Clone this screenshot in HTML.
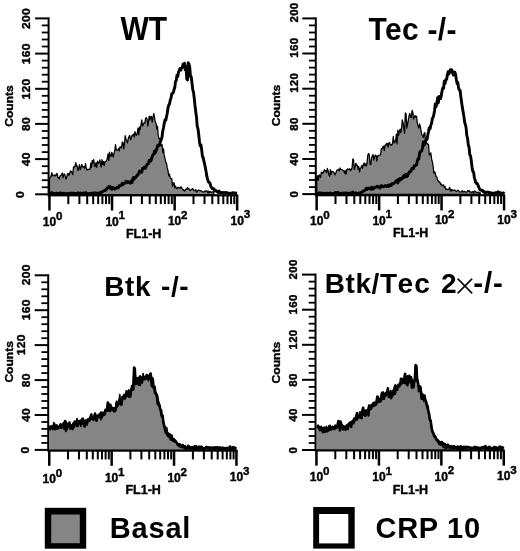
<!DOCTYPE html>
<html><head><meta charset="utf-8"><title>Flow cytometry histograms</title>
<style>
html,body{margin:0;padding:0;background:#fff;}
body{width:520px;height:551px;overflow:hidden;font-family:"Liberation Sans",sans-serif;}
svg{display:block;position:absolute;left:0;top:0;filter:grayscale(1);}
text{fill:#000;}
</style></head><body>
<svg width="520" height="551" viewBox="0 0 520 551">
<rect x="0" y="0" width="520" height="551" fill="#fff"/>
<path d="M49.5 179.5L50.2 177.2L51.0 176.5L51.8 172.7L52.5 175.7L53.2 175.4L54.0 175.9L54.8 174.8L55.5 175.8L56.2 175.0L57.0 173.3L57.8 177.4L58.5 177.4L59.2 179.0L60.0 176.0L60.8 175.2L61.5 174.9L62.2 173.1L63.0 177.9L63.8 174.1L64.5 174.0L65.2 175.9L66.0 179.1L66.8 176.8L67.5 173.7L68.2 173.5L69.0 175.4L69.8 173.1L70.5 171.0L71.2 171.4L72.0 172.7L72.8 174.6L73.5 166.8L74.2 167.4L75.0 166.2L75.8 162.6L76.5 166.0L77.2 165.8L78.0 170.7L78.8 167.9L79.5 164.6L80.2 169.7L81.0 167.5L81.8 164.4L82.5 167.0L83.2 167.1L84.0 166.5L84.8 168.5L85.5 163.5L86.2 167.7L87.0 170.1L87.8 169.3L88.5 169.5L89.2 169.1L90.0 169.6L90.8 163.1L91.5 167.3L92.2 160.5L93.0 163.0L93.8 159.5L94.5 166.2L95.2 166.5L96.0 162.6L96.8 167.3L97.5 161.2L98.2 163.1L99.0 163.0L99.8 159.9L100.5 163.5L101.2 167.1L102.0 159.6L102.8 164.3L103.5 161.5L104.2 165.6L105.0 161.7L105.8 161.4L106.5 160.6L107.2 158.8L108.0 153.8L108.8 160.4L109.5 152.2L110.2 156.0L111.0 156.6L111.8 152.3L112.5 154.6L113.2 157.1L114.0 153.4L114.8 150.7L115.5 144.6L116.2 149.7L117.0 150.4L117.8 150.2L118.5 148.5L119.2 151.0L120.0 146.9L120.8 146.9L121.5 148.0L122.2 142.1L123.0 142.4L123.8 148.8L124.5 143.5L125.2 135.6L126.0 139.2L126.8 140.9L127.5 142.8L128.2 139.0L129.0 136.5L129.8 135.5L130.5 139.7L131.2 138.3L132.0 135.3L132.8 135.6L133.5 134.1L134.2 137.1L135.0 131.6L135.8 134.8L136.5 135.3L137.2 133.3L138.0 128.0L138.8 134.8L139.5 126.8L140.2 129.6L141.0 124.5L141.8 119.9L142.5 125.9L143.2 125.1L144.0 122.8L144.8 123.2L145.5 118.9L146.2 117.6L147.0 118.7L147.8 126.1L148.5 121.6L149.2 116.2L150.0 119.8L150.8 116.3L151.5 116.8L152.2 122.1L153.0 117.3L153.8 113.5L154.5 117.2L155.2 121.9L156.0 123.0L156.8 129.1L157.5 126.2L158.2 135.3L159.0 138.3L159.8 139.0L160.5 144.6L161.2 146.0L162.0 144.4L162.8 152.6L163.5 148.8L164.2 155.5L165.0 158.5L165.8 162.6L166.5 163.0L167.2 167.7L168.0 170.6L168.8 175.9L169.5 174.1L170.2 177.5L171.0 178.7L171.8 178.7L172.5 186.4L173.2 183.4L174.0 182.7L174.8 187.8L175.5 185.9L176.2 188.1L177.0 188.8L177.8 187.2L178.5 187.6L179.2 187.7L180.0 188.3L180.8 186.8L181.5 187.4L182.2 188.7L183.0 190.1L183.8 189.8L184.5 191.1L185.2 190.2L186.0 189.0L186.8 189.4L187.5 187.6L188.2 188.7L189.0 188.7L189.8 190.1L190.5 190.5L191.2 189.4L192.0 189.4L192.8 188.6L193.5 190.0L194.2 190.4L195.0 190.7L195.8 189.6L196.5 192.2L197.2 191.6L198.0 190.4L198.8 190.1L199.5 190.3L200.2 190.8L201.0 190.7L201.8 191.2L202.5 191.6L203.2 192.2L204.0 192.0L204.8 191.0L205.5 191.5L206.2 190.9L207.0 190.8L207.8 193.0L208.5 191.1L209.2 193.1L210.0 191.3L210.8 191.9L211.5 192.6L212.2 191.8L213.0 192.1L213.8 191.7L213.8 194.5 L49.5 194.5 Z" fill="#858585" stroke="#000" stroke-width="1.25" stroke-linejoin="round"/>
<path d="M49.5 193.9L50.2 193.4L51.0 193.3L51.8 192.5L52.5 193.5L53.2 193.4L54.0 193.3L54.8 193.6L55.5 193.6L56.2 193.1L57.0 193.1L57.8 193.3L58.5 193.7L59.2 193.7L60.0 192.9L60.8 193.0L61.5 193.7L62.2 193.9L63.0 193.4L63.8 193.2L64.5 193.9L65.2 193.3L66.0 193.7L66.8 193.9L67.5 193.7L68.2 193.5L69.0 193.7L69.8 193.2L70.5 193.3L71.2 193.2L72.0 193.3L72.8 193.2L73.5 193.3L74.2 193.3L75.0 193.4L75.8 193.4L76.5 193.5L77.2 193.9L78.0 192.8L78.8 193.9L79.5 193.3L80.2 192.9L81.0 193.3L81.8 193.4L82.5 193.8L83.2 192.9L84.0 193.4L84.8 193.4L85.5 192.7L86.2 192.9L87.0 193.6L87.8 193.6L88.5 193.8L89.2 193.6L90.0 193.5L90.8 193.4L91.5 193.8L92.2 193.0L93.0 193.3L93.8 193.5L94.5 192.7L95.2 193.8L96.0 193.0L96.8 193.3L97.5 193.9L98.2 193.0L99.0 193.1L99.8 193.9L100.5 192.5L101.2 192.2L102.0 192.1L102.8 191.6L103.5 191.1L104.2 190.5L105.0 190.6L105.8 190.0L106.5 189.3L107.2 188.1L108.0 187.7L108.8 186.5L109.5 188.0L110.2 186.6L111.0 188.4L111.8 189.2L112.5 187.5L113.2 187.9L114.0 188.2L114.8 189.1L115.5 188.3L116.2 188.3L117.0 187.6L117.8 187.2L118.5 187.7L119.2 185.7L120.0 185.8L120.8 185.4L121.5 185.3L122.2 183.3L123.0 184.5L123.8 183.4L124.5 183.5L125.2 182.7L126.0 181.2L126.8 181.8L127.5 182.7L128.2 182.0L129.0 181.7L129.8 183.0L130.5 183.1L131.2 181.2L132.0 182.6L132.8 178.5L133.5 177.6L134.2 179.2L135.0 177.4L135.8 177.3L136.5 176.4L137.2 175.0L138.0 174.9L138.8 173.5L139.5 171.1L140.2 172.1L141.0 171.3L141.8 172.2L142.5 168.4L143.2 168.8L144.0 167.6L144.8 167.1L145.5 168.4L146.2 166.2L147.0 164.5L147.8 164.0L148.5 163.5L149.2 160.3L150.0 160.0L150.8 161.0L151.5 159.0L152.2 156.7L153.0 154.9L153.8 154.2L154.5 151.0L155.2 152.9L156.0 150.8L156.8 149.2L157.5 145.8L158.2 145.2L159.0 145.6L159.8 143.9L160.5 141.4L161.2 139.8L162.0 137.0L162.8 130.9L163.5 127.7L164.2 123.6L165.0 119.8L165.8 120.3L166.5 116.8L167.2 113.5L168.0 107.8L168.8 105.0L169.5 103.9L170.2 100.2L171.0 98.2L171.8 93.6L172.5 93.3L173.2 92.9L174.0 89.8L174.8 87.3L175.5 81.4L176.2 80.6L177.0 75.2L177.8 76.5L178.5 72.2L179.2 70.4L180.0 68.5L180.8 70.1L181.5 68.3L182.2 67.7L183.0 64.3L183.8 66.8L184.5 63.1L185.2 69.8L186.0 66.2L186.8 79.0L187.5 80.0L188.2 62.7L189.0 64.0L189.8 67.9L190.5 76.7L191.2 76.7L192.0 83.1L192.8 90.0L193.5 92.1L194.2 97.7L195.0 105.7L195.8 112.1L196.5 117.1L197.2 126.1L198.0 128.8L198.8 135.3L199.5 141.7L200.2 145.8L201.0 145.1L201.8 150.8L202.5 156.8L203.2 157.5L204.0 161.7L204.8 164.9L205.5 168.5L206.2 172.3L207.0 177.2L207.8 180.0L208.5 182.0L209.2 182.6L210.0 183.1L210.8 186.3L211.5 187.3L212.2 188.5L213.0 188.9L213.8 188.8L214.5 190.7L215.2 190.0L216.0 190.9L216.8 191.6L217.5 191.8L218.2 192.6L219.0 191.0L219.8 192.4L220.5 192.7L221.2 192.5L222.0 193.1L222.8 192.4L223.5 193.1L224.2 193.1L225.0 192.5L225.8 192.6L226.5 192.9L227.2 192.7L228.0 193.4L228.8 193.1L229.5 193.6L230.2 193.5L231.0 193.1L231.8 193.0L232.5 192.8L233.2 192.8L234.0 192.9L234.8 193.4L235.5 192.9L236.2 193.3L237.0 193.4" fill="none" stroke="#000" stroke-width="2.9" stroke-linejoin="round"/>
<rect x="47.6" y="17.4" width="2" height="177.9" fill="#000"/>
<rect x="35.1" y="17.4" width="13.5" height="2" fill="#000"/>
<rect x="41.8" y="24.5" width="6.8" height="1.8" fill="#000"/>
<rect x="41.8" y="31.6" width="6.8" height="1.8" fill="#000"/>
<rect x="41.8" y="38.6" width="6.8" height="1.8" fill="#000"/>
<rect x="41.8" y="45.6" width="6.8" height="1.8" fill="#000"/>
<rect x="35.1" y="52.6" width="13.5" height="2" fill="#000"/>
<rect x="41.8" y="59.7" width="6.8" height="1.8" fill="#000"/>
<rect x="41.8" y="66.8" width="6.8" height="1.8" fill="#000"/>
<rect x="41.8" y="73.8" width="6.8" height="1.8" fill="#000"/>
<rect x="41.8" y="80.8" width="6.8" height="1.8" fill="#000"/>
<rect x="35.1" y="87.8" width="13.5" height="2" fill="#000"/>
<rect x="41.8" y="94.9" width="6.8" height="1.8" fill="#000"/>
<rect x="41.8" y="101.9" width="6.8" height="1.8" fill="#000"/>
<rect x="41.8" y="109.0" width="6.8" height="1.8" fill="#000"/>
<rect x="41.8" y="116.0" width="6.8" height="1.8" fill="#000"/>
<rect x="35.1" y="122.9" width="13.5" height="2" fill="#000"/>
<rect x="41.8" y="130.1" width="6.8" height="1.8" fill="#000"/>
<rect x="41.8" y="137.1" width="6.8" height="1.8" fill="#000"/>
<rect x="41.8" y="144.1" width="6.8" height="1.8" fill="#000"/>
<rect x="41.8" y="151.2" width="6.8" height="1.8" fill="#000"/>
<rect x="35.1" y="158.1" width="13.5" height="2" fill="#000"/>
<rect x="41.8" y="165.3" width="6.8" height="1.8" fill="#000"/>
<rect x="41.8" y="172.3" width="6.8" height="1.8" fill="#000"/>
<rect x="41.8" y="179.3" width="6.8" height="1.8" fill="#000"/>
<rect x="41.8" y="186.4" width="6.8" height="1.8" fill="#000"/>
<rect x="35.1" y="193.3" width="13.5" height="2" fill="#000"/>
<text transform="translate(30.3 18.5) rotate(-90) scale(1.09 1)" text-anchor="middle" letter-spacing="0.3" font-size="11.0" font-family="Liberation Sans, sans-serif" font-weight="bold" stroke="#000" stroke-width="0.4" stroke-linejoin="round">200</text>
<text transform="translate(30.3 53.7) rotate(-90) scale(1.09 1)" text-anchor="middle" letter-spacing="0.3" font-size="11.0" font-family="Liberation Sans, sans-serif" font-weight="bold" stroke="#000" stroke-width="0.4" stroke-linejoin="round">160</text>
<text transform="translate(30.3 88.9) rotate(-90) scale(1.09 1)" text-anchor="middle" letter-spacing="0.3" font-size="11.0" font-family="Liberation Sans, sans-serif" font-weight="bold" stroke="#000" stroke-width="0.4" stroke-linejoin="round">120</text>
<text transform="translate(30.3 124.1) rotate(-90) scale(1.09 1)" text-anchor="middle" letter-spacing="0.3" font-size="11.0" font-family="Liberation Sans, sans-serif" font-weight="bold" stroke="#000" stroke-width="0.4" stroke-linejoin="round">80</text>
<text transform="translate(30.3 159.3) rotate(-90) scale(1.09 1)" text-anchor="middle" letter-spacing="0.3" font-size="11.0" font-family="Liberation Sans, sans-serif" font-weight="bold" stroke="#000" stroke-width="0.4" stroke-linejoin="round">40</text>
<text transform="translate(24.3 194.5) rotate(-90) scale(1.09 1)" text-anchor="middle" letter-spacing="0.3" font-size="11.0" font-family="Liberation Sans, sans-serif" font-weight="bold" stroke="#000" stroke-width="0.4" stroke-linejoin="round">0</text>
<text transform="translate(12.5 106.0) rotate(-90) scale(1.1 1)" text-anchor="middle" font-size="11" font-family="Liberation Sans, sans-serif" font-weight="bold" stroke="#000" stroke-width="0.4" stroke-linejoin="round">Counts</text>
<rect x="47.6" y="194.2" width="190.6" height="2.2" fill="#000"/>
<rect x="48.2" y="195.3" width="2.5" height="15.2" fill="#000"/>
<rect x="67.3" y="195.3" width="2" height="8.8" fill="#000"/>
<rect x="78.4" y="195.3" width="2" height="8.8" fill="#000"/>
<rect x="86.2" y="195.3" width="2" height="8.8" fill="#000"/>
<rect x="92.2" y="195.3" width="2" height="8.8" fill="#000"/>
<rect x="97.2" y="195.3" width="2" height="8.8" fill="#000"/>
<rect x="101.4" y="195.3" width="2" height="8.8" fill="#000"/>
<rect x="105.0" y="195.3" width="2" height="8.8" fill="#000"/>
<rect x="108.2" y="195.3" width="2" height="8.8" fill="#000"/>
<rect x="110.8" y="195.3" width="2.5" height="15.2" fill="#000"/>
<rect x="129.9" y="195.3" width="2" height="8.8" fill="#000"/>
<rect x="140.9" y="195.3" width="2" height="8.8" fill="#000"/>
<rect x="148.7" y="195.3" width="2" height="8.8" fill="#000"/>
<rect x="154.8" y="195.3" width="2" height="8.8" fill="#000"/>
<rect x="159.8" y="195.3" width="2" height="8.8" fill="#000"/>
<rect x="163.9" y="195.3" width="2" height="8.8" fill="#000"/>
<rect x="167.6" y="195.3" width="2" height="8.8" fill="#000"/>
<rect x="170.8" y="195.3" width="2" height="8.8" fill="#000"/>
<rect x="173.4" y="195.3" width="2.5" height="15.2" fill="#000"/>
<rect x="192.5" y="195.3" width="2" height="8.8" fill="#000"/>
<rect x="203.5" y="195.3" width="2" height="8.8" fill="#000"/>
<rect x="211.3" y="195.3" width="2" height="8.8" fill="#000"/>
<rect x="217.4" y="195.3" width="2" height="8.8" fill="#000"/>
<rect x="222.3" y="195.3" width="2" height="8.8" fill="#000"/>
<rect x="226.5" y="195.3" width="2" height="8.8" fill="#000"/>
<rect x="230.1" y="195.3" width="2" height="8.8" fill="#000"/>
<rect x="233.3" y="195.3" width="2" height="8.8" fill="#000"/>
<rect x="235.9" y="195.3" width="2.5" height="15.2" fill="#000"/>
<text x="49.5" y="225.9" font-size="12" font-family="Liberation Sans, sans-serif" font-weight="bold" stroke="#000" stroke-width="0.4" stroke-linejoin="round" text-anchor="middle">10</text>
<text x="56.0" y="219.7" font-size="11.6" font-family="Liberation Sans, sans-serif" font-weight="bold" stroke="#000" stroke-width="0.4" stroke-linejoin="round">0</text>
<text x="112.1" y="225.5" font-size="12" font-family="Liberation Sans, sans-serif" font-weight="bold" stroke="#000" stroke-width="0.4" stroke-linejoin="round" text-anchor="middle">10</text>
<text x="118.6" y="219.3" font-size="11.6" font-family="Liberation Sans, sans-serif" font-weight="bold" stroke="#000" stroke-width="0.4" stroke-linejoin="round">1</text>
<text x="174.6" y="225.0" font-size="12" font-family="Liberation Sans, sans-serif" font-weight="bold" stroke="#000" stroke-width="0.4" stroke-linejoin="round" text-anchor="middle">10</text>
<text x="181.1" y="218.8" font-size="11.6" font-family="Liberation Sans, sans-serif" font-weight="bold" stroke="#000" stroke-width="0.4" stroke-linejoin="round">2</text>
<text x="237.2" y="224.6" font-size="12" font-family="Liberation Sans, sans-serif" font-weight="bold" stroke="#000" stroke-width="0.4" stroke-linejoin="round" text-anchor="middle">10</text>
<text x="243.7" y="218.4" font-size="11.6" font-family="Liberation Sans, sans-serif" font-weight="bold" stroke="#000" stroke-width="0.4" stroke-linejoin="round">3</text>
<text x="143.7" y="238.2" font-size="12.5" font-family="Liberation Sans, sans-serif" font-weight="bold" stroke="#000" stroke-width="0.4" stroke-linejoin="round" text-anchor="middle">FL1-H</text>
<text transform="translate(120.5 40) scale(1 1.08)" font-size="30" font-family="Liberation Sans, sans-serif" font-weight="bold">WT</text>
<path d="M316.8 177.3L317.6 175.7L318.3 180.4L319.1 174.9L319.8 175.1L320.6 177.5L321.3 172.2L322.1 172.4L322.8 173.5L323.6 172.0L324.3 169.7L325.1 171.3L325.8 170.7L326.6 172.9L327.3 168.4L328.1 170.7L328.8 174.7L329.6 176.3L330.3 169.7L331.1 174.3L331.8 171.2L332.6 171.7L333.3 171.9L334.1 172.7L334.8 174.9L335.6 173.6L336.3 171.6L337.1 170.0L337.8 170.1L338.6 169.2L339.3 170.8L340.1 167.9L340.8 169.5L341.6 169.5L342.3 169.8L343.1 170.6L343.8 170.7L344.6 173.3L345.3 170.5L346.1 174.2L346.8 169.7L347.6 168.8L348.3 169.5L349.1 169.5L349.8 168.8L350.6 170.6L351.3 169.7L352.1 167.7L352.8 159.0L353.6 160.0L354.3 169.5L355.1 166.9L355.8 163.4L356.6 164.9L357.3 165.3L358.1 169.3L358.8 166.5L359.6 172.0L360.3 168.5L361.1 167.3L361.8 165.5L362.6 168.2L363.3 164.8L364.1 162.9L364.8 165.6L365.6 163.8L366.3 166.1L367.1 162.5L367.8 155.1L368.6 153.5L369.3 154.5L370.1 164.4L370.8 164.6L371.6 158.3L372.3 155.8L373.1 154.7L373.8 160.0L374.6 156.7L375.3 155.1L376.1 155.5L376.8 161.2L377.6 155.8L378.3 156.0L379.1 155.3L379.8 155.2L380.6 154.5L381.3 148.6L382.1 149.2L382.8 146.8L383.6 146.1L384.3 150.7L385.1 145.0L385.8 145.7L386.6 143.4L387.3 143.3L388.1 147.1L388.8 143.0L389.6 142.5L390.3 145.1L391.1 144.7L391.8 145.2L392.6 142.9L393.3 136.5L394.1 143.0L394.8 141.2L395.6 141.6L396.3 134.2L397.1 143.9L397.8 130.1L398.6 135.3L399.3 131.8L400.1 129.1L400.8 132.7L401.6 128.0L402.3 119.9L403.1 123.0L403.8 127.8L404.6 133.3L405.3 113.0L406.1 114.0L406.8 128.1L407.6 124.3L408.3 120.0L409.1 115.5L409.8 113.4L410.6 116.8L411.3 117.8L412.1 110.4L412.8 112.1L413.6 119.2L414.3 116.5L415.1 115.6L415.8 117.3L416.6 116.2L417.3 123.1L418.1 126.1L418.8 128.1L419.6 123.9L420.3 126.4L421.1 131.3L421.8 134.6L422.6 136.0L423.3 137.4L424.1 133.5L424.8 132.6L425.6 142.8L426.3 141.9L427.1 144.2L427.8 143.9L428.6 145.0L429.3 155.0L430.1 154.6L430.8 152.8L431.6 158.9L432.3 161.6L433.1 165.8L433.8 173.2L434.6 171.9L435.3 173.3L436.1 176.9L436.8 176.9L437.6 180.2L438.3 180.7L439.1 182.1L439.8 181.9L440.6 184.5L441.3 183.9L442.1 185.9L442.8 185.3L443.6 184.9L444.3 187.4L445.1 186.5L445.8 189.6L446.6 189.0L447.3 189.5L448.1 189.4L448.8 189.4L449.6 187.3L450.3 191.0L451.1 189.2L451.8 191.1L452.6 189.8L453.3 190.4L454.1 190.5L454.8 190.0L455.6 190.9L456.3 191.5L457.1 190.8L457.8 190.1L458.6 190.7L459.3 191.4L460.1 192.2L460.8 192.0L461.6 191.6L462.3 190.6L463.1 192.1L463.8 191.5L464.6 191.3L465.3 192.2L466.1 192.0L466.8 192.0L467.6 190.7L468.3 191.2L469.1 190.4L469.8 191.9L470.6 191.8L471.3 192.5L472.1 192.0L472.8 191.6L473.6 193.5L474.3 191.2L475.1 191.1L475.8 191.8L476.6 192.7L477.3 192.3L478.1 192.4L478.8 192.1L479.6 193.7L480.3 192.8L480.3 194.3 L316.8 194.3 Z" fill="#858585" stroke="#000" stroke-width="1.25" stroke-linejoin="round"/>
<path d="M316.8 193.7L317.6 193.2L318.3 193.6L319.1 192.8L319.8 193.7L320.6 192.9L321.3 193.5L322.1 193.4L322.8 193.1L323.6 193.7L324.3 193.2L325.1 193.6L325.8 193.7L326.6 193.0L327.3 193.7L328.1 193.4L328.8 193.7L329.6 193.1L330.3 193.0L331.1 193.7L331.8 193.6L332.6 193.4L333.3 193.6L334.1 193.6L334.8 192.9L335.6 192.5L336.3 192.7L337.1 192.7L337.8 192.5L338.6 193.1L339.3 193.1L340.1 193.3L340.8 193.4L341.6 193.2L342.3 193.2L343.1 193.3L343.8 192.9L344.6 193.0L345.3 193.3L346.1 193.0L346.8 193.1L347.6 193.2L348.3 193.7L349.1 193.4L349.8 193.1L350.6 193.0L351.3 193.2L352.1 193.7L352.8 192.0L353.6 193.5L354.3 193.3L355.1 193.6L355.8 192.8L356.6 193.7L357.3 193.6L358.1 193.2L358.8 193.3L359.6 192.9L360.3 193.0L361.1 192.5L361.8 192.4L362.6 191.7L363.3 191.0L364.1 190.9L364.8 190.3L365.6 189.7L366.3 188.2L367.1 189.5L367.8 188.1L368.6 188.1L369.3 188.5L370.1 188.8L370.8 189.2L371.6 187.2L372.3 189.0L373.1 189.0L373.8 187.6L374.6 187.7L375.3 187.3L376.1 187.2L376.8 186.6L377.6 186.3L378.3 187.1L379.1 187.3L379.8 188.2L380.6 186.3L381.3 185.5L382.1 186.8L382.8 186.3L383.6 186.7L384.3 186.2L385.1 185.5L385.8 185.8L386.6 186.6L387.3 186.2L388.1 185.3L388.8 186.4L389.6 184.7L390.3 185.2L391.1 185.6L391.8 183.9L392.6 183.5L393.3 183.8L394.1 183.2L394.8 182.5L395.6 181.7L396.3 180.7L397.1 180.3L397.8 182.9L398.6 179.3L399.3 180.6L400.1 178.4L400.8 179.7L401.6 179.1L402.3 178.0L403.1 176.7L403.8 175.6L404.6 177.3L405.3 174.8L406.1 174.4L406.8 176.5L407.6 175.8L408.3 173.7L409.1 172.7L409.8 171.5L410.6 171.7L411.3 170.1L412.1 168.3L412.8 168.3L413.6 168.6L414.3 165.8L415.1 165.7L415.8 165.2L416.6 164.9L417.3 161.1L418.1 158.8L418.8 159.1L419.6 153.1L420.3 151.4L421.1 151.6L421.8 150.4L422.6 147.9L423.3 142.0L424.1 145.2L424.8 143.5L425.6 141.0L426.3 140.2L427.1 139.2L427.8 135.0L428.6 131.3L429.3 127.6L430.1 128.6L430.8 125.2L431.6 123.2L432.3 118.5L433.1 117.4L433.8 114.6L434.6 110.4L435.3 103.9L436.1 106.6L436.8 104.4L437.6 97.8L438.3 102.7L439.1 96.4L439.8 96.4L440.6 98.6L441.3 95.5L442.1 90.6L442.8 87.9L443.6 88.2L444.3 81.2L445.1 83.5L445.8 79.6L446.6 79.5L447.3 75.2L448.1 71.8L448.8 74.2L449.6 72.5L450.3 69.6L451.1 69.7L451.8 69.9L452.6 72.9L453.3 75.1L454.1 74.0L454.8 72.0L455.6 74.4L456.3 79.2L457.1 83.5L457.8 82.4L458.6 88.2L459.3 90.0L460.1 90.1L460.8 96.4L461.6 102.4L462.3 107.0L463.1 111.7L463.8 115.8L464.6 122.0L465.3 124.2L466.1 127.7L466.8 135.6L467.6 138.4L468.3 145.0L469.1 147.3L469.8 154.8L470.6 156.1L471.3 160.8L472.1 167.5L472.8 171.6L473.6 172.0L474.3 177.3L475.1 180.2L475.8 182.6L476.6 183.6L477.3 183.5L478.1 185.3L478.8 187.1L479.6 189.2L480.3 189.9L481.1 190.1L481.8 190.8L482.6 190.3L483.3 191.7L484.1 191.4L484.8 192.8L485.6 192.6L486.3 192.3L487.1 192.4L487.8 192.0L488.6 192.8L489.3 192.3L490.1 192.7L490.8 193.3L491.6 193.0L492.3 193.0L493.1 193.7L493.8 193.2L494.6 193.4L495.3 192.9L496.1 192.5L496.8 193.1L497.6 192.6L498.3 191.9L499.1 193.3L499.8 193.3L500.6 192.7L501.3 193.7L502.1 193.2L502.8 193.1L503.6 192.9L504.3 193.7" fill="none" stroke="#000" stroke-width="2.9" stroke-linejoin="round"/>
<rect x="314.8" y="17.4" width="2" height="177.7" fill="#000"/>
<rect x="302.3" y="17.4" width="13.5" height="2" fill="#000"/>
<rect x="309.0" y="24.5" width="6.8" height="1.8" fill="#000"/>
<rect x="309.0" y="31.6" width="6.8" height="1.8" fill="#000"/>
<rect x="309.0" y="38.6" width="6.8" height="1.8" fill="#000"/>
<rect x="309.0" y="45.6" width="6.8" height="1.8" fill="#000"/>
<rect x="302.3" y="52.5" width="13.5" height="2" fill="#000"/>
<rect x="309.0" y="59.7" width="6.8" height="1.8" fill="#000"/>
<rect x="309.0" y="66.7" width="6.8" height="1.8" fill="#000"/>
<rect x="309.0" y="73.7" width="6.8" height="1.8" fill="#000"/>
<rect x="309.0" y="80.8" width="6.8" height="1.8" fill="#000"/>
<rect x="302.3" y="87.7" width="13.5" height="2" fill="#000"/>
<rect x="309.0" y="94.8" width="6.8" height="1.8" fill="#000"/>
<rect x="309.0" y="101.8" width="6.8" height="1.8" fill="#000"/>
<rect x="309.0" y="108.9" width="6.8" height="1.8" fill="#000"/>
<rect x="309.0" y="115.9" width="6.8" height="1.8" fill="#000"/>
<rect x="302.3" y="122.8" width="13.5" height="2" fill="#000"/>
<rect x="309.0" y="129.9" width="6.8" height="1.8" fill="#000"/>
<rect x="309.0" y="137.0" width="6.8" height="1.8" fill="#000"/>
<rect x="309.0" y="144.0" width="6.8" height="1.8" fill="#000"/>
<rect x="309.0" y="151.0" width="6.8" height="1.8" fill="#000"/>
<rect x="302.3" y="158.0" width="13.5" height="2" fill="#000"/>
<rect x="309.0" y="165.1" width="6.8" height="1.8" fill="#000"/>
<rect x="309.0" y="172.1" width="6.8" height="1.8" fill="#000"/>
<rect x="309.0" y="179.1" width="6.8" height="1.8" fill="#000"/>
<rect x="309.0" y="186.2" width="6.8" height="1.8" fill="#000"/>
<rect x="302.3" y="193.1" width="13.5" height="2" fill="#000"/>
<text transform="translate(297.8 12.5) rotate(-90) scale(1.09 1)" text-anchor="middle" letter-spacing="0.3" font-size="10.5" font-family="Liberation Sans, sans-serif" font-weight="bold" stroke="#000" stroke-width="0.4" stroke-linejoin="round">200</text>
<text transform="translate(297.8 47.7) rotate(-90) scale(1.09 1)" text-anchor="middle" letter-spacing="0.3" font-size="10.5" font-family="Liberation Sans, sans-serif" font-weight="bold" stroke="#000" stroke-width="0.4" stroke-linejoin="round">160</text>
<text transform="translate(297.8 82.8) rotate(-90) scale(1.09 1)" text-anchor="middle" letter-spacing="0.3" font-size="10.5" font-family="Liberation Sans, sans-serif" font-weight="bold" stroke="#000" stroke-width="0.4" stroke-linejoin="round">120</text>
<text transform="translate(297.8 124.0) rotate(-90) scale(1.09 1)" text-anchor="middle" letter-spacing="0.3" font-size="10.5" font-family="Liberation Sans, sans-serif" font-weight="bold" stroke="#000" stroke-width="0.4" stroke-linejoin="round">80</text>
<text transform="translate(297.8 159.1) rotate(-90) scale(1.09 1)" text-anchor="middle" letter-spacing="0.3" font-size="10.5" font-family="Liberation Sans, sans-serif" font-weight="bold" stroke="#000" stroke-width="0.4" stroke-linejoin="round">40</text>
<text transform="translate(297.8 194.2) rotate(-90) scale(1.09 1)" text-anchor="middle" letter-spacing="0.3" font-size="10.5" font-family="Liberation Sans, sans-serif" font-weight="bold" stroke="#000" stroke-width="0.4" stroke-linejoin="round">0</text>
<text transform="translate(279.6 105.5) rotate(-90) scale(1.1 1)" text-anchor="middle" font-size="11" font-family="Liberation Sans, sans-serif" font-weight="bold" stroke="#000" stroke-width="0.4" stroke-linejoin="round">Counts</text>
<rect x="314.8" y="194.1" width="190.2" height="2.2" fill="#000"/>
<rect x="315.4" y="195.2" width="2.5" height="15.2" fill="#000"/>
<rect x="334.5" y="195.2" width="2" height="8.8" fill="#000"/>
<rect x="345.5" y="195.2" width="2" height="8.8" fill="#000"/>
<rect x="353.3" y="195.2" width="2" height="8.8" fill="#000"/>
<rect x="359.3" y="195.2" width="2" height="8.8" fill="#000"/>
<rect x="364.3" y="195.2" width="2" height="8.8" fill="#000"/>
<rect x="368.5" y="195.2" width="2" height="8.8" fill="#000"/>
<rect x="372.1" y="195.2" width="2" height="8.8" fill="#000"/>
<rect x="375.3" y="195.2" width="2" height="8.8" fill="#000"/>
<rect x="377.9" y="195.2" width="2.5" height="15.2" fill="#000"/>
<rect x="396.9" y="195.2" width="2" height="8.8" fill="#000"/>
<rect x="407.9" y="195.2" width="2" height="8.8" fill="#000"/>
<rect x="415.7" y="195.2" width="2" height="8.8" fill="#000"/>
<rect x="421.8" y="195.2" width="2" height="8.8" fill="#000"/>
<rect x="426.7" y="195.2" width="2" height="8.8" fill="#000"/>
<rect x="430.9" y="195.2" width="2" height="8.8" fill="#000"/>
<rect x="434.5" y="195.2" width="2" height="8.8" fill="#000"/>
<rect x="437.7" y="195.2" width="2" height="8.8" fill="#000"/>
<rect x="440.3" y="195.2" width="2.5" height="15.2" fill="#000"/>
<rect x="459.4" y="195.2" width="2" height="8.8" fill="#000"/>
<rect x="470.4" y="195.2" width="2" height="8.8" fill="#000"/>
<rect x="478.2" y="195.2" width="2" height="8.8" fill="#000"/>
<rect x="484.2" y="195.2" width="2" height="8.8" fill="#000"/>
<rect x="489.1" y="195.2" width="2" height="8.8" fill="#000"/>
<rect x="493.3" y="195.2" width="2" height="8.8" fill="#000"/>
<rect x="496.9" y="195.2" width="2" height="8.8" fill="#000"/>
<rect x="500.1" y="195.2" width="2" height="8.8" fill="#000"/>
<rect x="502.8" y="195.2" width="2.5" height="15.2" fill="#000"/>
<text x="316.7" y="224.9" font-size="12" font-family="Liberation Sans, sans-serif" font-weight="bold" stroke="#000" stroke-width="0.4" stroke-linejoin="round" text-anchor="middle">10</text>
<text x="323.2" y="218.7" font-size="11.6" font-family="Liberation Sans, sans-serif" font-weight="bold" stroke="#000" stroke-width="0.4" stroke-linejoin="round">0</text>
<text x="379.1" y="224.6" font-size="12" font-family="Liberation Sans, sans-serif" font-weight="bold" stroke="#000" stroke-width="0.4" stroke-linejoin="round" text-anchor="middle">10</text>
<text x="385.6" y="218.4" font-size="11.6" font-family="Liberation Sans, sans-serif" font-weight="bold" stroke="#000" stroke-width="0.4" stroke-linejoin="round">1</text>
<text x="441.6" y="224.3" font-size="12" font-family="Liberation Sans, sans-serif" font-weight="bold" stroke="#000" stroke-width="0.4" stroke-linejoin="round" text-anchor="middle">10</text>
<text x="448.1" y="218.1" font-size="11.6" font-family="Liberation Sans, sans-serif" font-weight="bold" stroke="#000" stroke-width="0.4" stroke-linejoin="round">2</text>
<text x="504.0" y="224.0" font-size="12" font-family="Liberation Sans, sans-serif" font-weight="bold" stroke="#000" stroke-width="0.4" stroke-linejoin="round" text-anchor="middle">10</text>
<text x="510.5" y="217.8" font-size="11.6" font-family="Liberation Sans, sans-serif" font-weight="bold" stroke="#000" stroke-width="0.4" stroke-linejoin="round">3</text>
<text x="410.7" y="237.2" font-size="12.5" font-family="Liberation Sans, sans-serif" font-weight="bold" stroke="#000" stroke-width="0.4" stroke-linejoin="round" text-anchor="middle">FL1-H</text>
<text transform="translate(368.6 40) scale(1 1.05)" font-size="30" letter-spacing="0.3" font-family="Liberation Sans, sans-serif" font-weight="bold">Tec -/-</text>
<path d="M49.3 430.4L50.0 426.7L50.8 427.6L51.5 428.2L52.3 426.1L53.0 427.5L53.8 427.5L54.5 424.5L55.3 429.2L56.0 428.5L56.8 426.4L57.5 427.2L58.3 428.2L59.0 426.7L59.8 426.5L60.5 424.3L61.3 427.6L62.0 426.6L62.8 426.7L63.5 423.4L64.3 428.8L65.0 421.0L65.8 422.0L66.5 429.6L67.3 426.1L68.0 423.8L68.8 425.8L69.5 422.6L70.3 428.6L71.0 426.2L71.8 425.8L72.5 429.0L73.3 423.6L74.0 426.8L74.8 421.5L75.5 423.4L76.3 421.7L77.0 426.0L77.8 425.9L78.5 421.4L79.3 423.4L80.0 421.6L80.8 423.0L81.5 420.6L82.3 418.9L83.0 418.8L83.8 422.9L84.5 426.5L85.3 422.6L86.0 420.5L86.8 424.5L87.5 420.8L88.3 419.9L89.0 419.6L89.8 418.3L90.5 417.3L91.3 414.5L92.0 418.4L92.8 417.2L93.5 419.8L94.3 416.7L95.0 413.6L95.8 417.2L96.5 420.8L97.3 416.6L98.0 415.6L98.8 415.0L99.5 414.4L100.3 415.1L101.0 412.5L101.8 417.2L102.5 412.7L103.3 412.7L104.0 414.8L104.8 414.3L105.5 409.9L106.3 410.4L107.0 410.6L107.8 402.5L108.5 403.5L109.3 410.3L110.0 410.9L110.8 410.0L111.5 407.2L112.3 408.9L113.0 408.1L113.8 408.8L114.5 411.3L115.3 410.7L116.0 407.7L116.8 406.4L117.5 405.6L118.3 402.9L119.0 401.6L119.8 399.1L120.5 399.8L121.3 404.8L122.0 400.9L122.8 397.3L123.5 396.4L124.3 394.8L125.0 397.2L125.8 396.6L126.5 391.4L127.3 395.7L128.1 392.3L128.8 396.6L129.6 392.7L130.3 396.0L131.1 389.6L131.8 389.3L132.6 389.3L133.3 389.5L134.1 367.5L134.8 368.5L135.6 383.6L136.3 382.3L137.1 380.2L137.8 378.7L138.6 384.6L139.3 378.1L140.1 376.4L140.8 380.1L141.6 378.3L142.3 377.3L143.1 379.3L143.8 378.1L144.6 377.3L145.3 378.9L146.1 377.3L146.8 375.1L147.6 376.2L148.3 376.1L149.1 378.5L149.8 375.2L150.6 373.5L151.3 379.4L152.1 378.0L152.8 379.0L153.6 387.8L154.3 387.5L155.1 393.3L155.8 393.2L156.6 394.4L157.3 396.7L158.1 401.1L158.8 404.3L159.6 405.6L160.3 409.6L161.1 409.9L161.8 416.2L162.6 415.6L163.3 421.6L164.1 425.8L164.8 428.4L165.6 431.4L166.3 427.9L167.1 433.6L167.8 435.7L168.6 436.0L169.3 434.0L170.1 436.6L170.8 439.4L171.6 435.5L172.3 438.9L173.1 440.6L173.8 439.1L174.6 441.6L175.3 440.6L176.1 441.8L176.8 442.7L177.6 444.7L178.3 444.7L179.1 446.1L179.8 444.4L180.6 445.5L181.3 446.9L182.1 446.7L182.8 445.2L183.6 447.4L184.3 446.5L185.1 447.6L185.8 447.6L186.6 448.5L187.3 447.5L188.1 445.8L188.8 446.3L189.6 448.3L190.3 447.4L191.1 448.7L191.8 448.0L192.6 447.2L193.3 448.9L194.1 447.2L194.8 446.2L195.6 449.7L196.3 446.3L197.1 448.6L197.8 448.9L198.6 448.2L199.3 446.6L200.1 448.9L200.8 446.8L201.6 446.9L202.3 447.7L203.1 448.7L203.8 448.3L204.6 448.8L205.3 447.7L206.1 447.9L206.8 447.1L207.6 447.8L208.3 448.6L209.1 447.8L209.8 448.5L210.6 447.6L211.3 447.6L212.1 448.1L212.8 447.9L213.6 448.6L214.3 448.3L215.1 449.6L215.8 447.9L216.6 447.9L217.3 447.2L218.1 448.1L218.8 448.7L219.6 447.5L220.3 448.1L221.1 448.8L221.8 448.0L222.6 447.7L223.3 449.0L224.1 448.2L224.8 448.5L225.6 449.2L226.3 449.2L227.1 447.9L227.8 447.7L228.6 448.4L229.3 448.1L230.1 446.5L230.8 449.3L231.6 448.2L232.3 448.8L233.1 447.2L233.8 449.3L234.6 447.7L235.3 448.1L236.1 447.0L236.1 450.2 L49.3 450.2 Z" fill="#858585" stroke="none"/>
<path d="M49.3 430.4L50.0 426.7L50.8 427.6L51.5 428.2L52.3 426.1L53.0 427.5L53.8 427.5L54.5 424.5L55.3 429.2L56.0 428.5L56.8 426.4L57.5 427.2L58.3 428.2L59.0 426.7L59.8 426.5L60.5 424.3L61.3 427.6L62.0 426.6L62.8 426.7L63.5 423.4L64.3 428.8L65.0 421.0L65.8 422.0L66.5 429.6L67.3 426.1L68.0 423.8L68.8 425.8L69.5 422.6L70.3 428.6L71.0 426.2L71.8 425.8L72.5 429.0L73.3 423.6L74.0 426.8L74.8 421.5L75.5 423.4L76.3 421.7L77.0 426.0L77.8 425.9L78.5 421.4L79.3 423.4L80.0 421.6L80.8 423.0L81.5 420.6L82.3 418.9L83.0 418.8L83.8 422.9L84.5 426.5L85.3 422.6L86.0 420.5L86.8 424.5L87.5 420.8L88.3 419.9L89.0 419.6L89.8 418.3L90.5 417.3L91.3 414.5L92.0 418.4L92.8 417.2L93.5 419.8L94.3 416.7L95.0 413.6L95.8 417.2L96.5 420.8L97.3 416.6L98.0 415.6L98.8 415.0L99.5 414.4L100.3 415.1L101.0 412.5L101.8 417.2L102.5 412.7L103.3 412.7L104.0 414.8L104.8 414.3L105.5 409.9L106.3 410.4L107.0 410.6L107.8 402.5L108.5 403.5L109.3 410.3L110.0 410.9L110.8 410.0L111.5 407.2L112.3 408.9L113.0 408.1L113.8 408.8L114.5 411.3L115.3 410.7L116.0 407.7L116.8 406.4L117.5 405.6L118.3 402.9L119.0 401.6L119.8 399.1L120.5 399.8L121.3 404.8L122.0 400.9L122.8 397.3L123.5 396.4L124.3 394.8L125.0 397.2L125.8 396.6L126.5 391.4L127.3 395.7L128.1 392.3L128.8 396.6L129.6 392.7L130.3 396.0L131.1 389.6L131.8 389.3L132.6 389.3L133.3 389.5L134.1 367.5L134.8 368.5L135.6 383.6L136.3 382.3L137.1 380.2L137.8 378.7L138.6 384.6L139.3 378.1L140.1 376.4L140.8 380.1L141.6 378.3L142.3 377.3L143.1 379.3L143.8 378.1L144.6 377.3L145.3 378.9L146.1 377.3L146.8 375.1L147.6 376.2L148.3 376.1L149.1 378.5L149.8 375.2L150.6 373.5L151.3 379.4L152.1 378.0L152.8 379.0L153.6 387.8L154.3 387.5L155.1 393.3L155.8 393.2L156.6 394.4L157.3 396.7L158.1 401.1L158.8 404.3L159.6 405.6L160.3 409.6L161.1 409.9L161.8 416.2L162.6 415.6L163.3 421.6L164.1 425.8L164.8 428.4L165.6 431.4L166.3 427.9L167.1 433.6L167.8 435.7L168.6 436.0L169.3 434.0L170.1 436.6L170.8 439.4L171.6 435.5L172.3 438.9L173.1 440.6L173.8 439.1L174.6 441.6L175.3 440.6L176.1 441.8L176.8 442.7L177.6 444.7L178.3 444.7L179.1 446.1L179.8 444.4L180.6 445.5L181.3 446.9L182.1 446.7L182.8 445.2L183.6 447.4L184.3 446.5L185.1 447.6L185.8 447.6L186.6 448.5L187.3 447.5L188.1 445.8L188.8 446.3L189.6 448.3L190.3 447.4L191.1 448.7L191.8 448.0L192.6 447.2L193.3 448.9L194.1 447.2L194.8 446.2L195.6 449.7L196.3 446.3L197.1 448.6L197.8 448.9L198.6 448.2L199.3 446.6L200.1 448.9L200.8 446.8L201.6 446.9L202.3 447.7L203.1 448.7L203.8 448.3L204.6 448.8L205.3 447.7L206.1 447.9L206.8 447.1L207.6 447.8L208.3 448.6L209.1 447.8L209.8 448.5L210.6 447.6L211.3 447.6L212.1 448.1L212.8 447.9L213.6 448.6L214.3 448.3L215.1 449.6L215.8 447.9L216.6 447.9L217.3 447.2L218.1 448.1L218.8 448.7L219.6 447.5L220.3 448.1L221.1 448.8L221.8 448.0L222.6 447.7L223.3 449.0L224.1 448.2L224.8 448.5L225.6 449.2L226.3 449.2L227.1 447.9L227.8 447.7L228.6 448.4L229.3 448.1L230.1 446.5L230.8 449.3L231.6 448.2L232.3 448.8L233.1 447.2L233.8 449.3L234.6 447.7L235.3 448.1L236.1 447.0" fill="none" stroke="#000" stroke-width="2.6" stroke-linejoin="round"/>
<path d="M49.3 429.1L50.0 428.0L50.8 426.2L51.5 426.9L52.3 427.3L53.0 429.6L53.8 422.5L54.5 427.0L55.3 425.4L56.0 426.3L56.8 424.8L57.5 429.0L58.3 426.6L59.0 426.4L59.8 426.1L60.5 427.6L61.3 427.5L62.0 426.3L62.8 427.6L63.5 428.1L64.3 423.8L65.0 423.7L65.8 431.5L66.5 424.0L67.3 425.4L68.0 427.4L68.8 425.3L69.5 424.4L70.3 426.8L71.0 427.6L71.8 424.8L72.5 427.2L73.3 427.9L74.0 424.9L74.8 424.1L75.5 423.0L76.3 423.8L77.0 418.6L77.8 422.2L78.5 421.6L79.3 421.8L80.0 420.3L80.8 426.4L81.5 423.5L82.3 424.0L83.0 421.7L83.8 423.3L84.5 422.6L85.3 421.6L86.0 423.5L86.8 422.9L87.5 419.0L88.3 421.4L89.0 419.9L89.8 420.9L90.5 419.5L91.3 419.1L92.0 417.2L92.8 417.5L93.5 416.8L94.3 416.1L95.0 415.6L95.8 415.1L96.5 416.6L97.3 417.0L98.0 416.5L98.8 417.7L99.5 415.1L100.3 415.9L101.0 419.6L101.8 414.4L102.5 412.9L103.3 414.3L104.0 414.2L104.8 412.1L105.5 409.9L106.3 410.2L107.0 410.1L107.8 410.6L108.5 409.4L109.3 411.0L110.0 409.6L110.8 404.4L111.5 409.1L112.3 408.0L113.0 410.9L113.8 411.0L114.5 407.8L115.3 411.2L116.0 402.8L116.8 401.2L117.5 406.5L118.3 404.6L119.0 403.9L119.8 394.6L120.5 404.7L121.3 400.2L122.0 396.9L122.8 397.7L123.5 396.4L124.3 398.9L125.0 399.1L125.8 394.2L126.5 392.5L127.3 396.0L128.1 392.3L128.8 389.9L129.6 392.8L130.3 397.4L131.1 388.9L131.8 385.5L132.6 388.1L133.3 384.8L134.1 369.0L134.8 370.0L135.6 384.7L136.3 377.9L137.1 383.9L137.8 377.6L138.6 382.7L139.3 379.8L140.1 385.3L140.8 377.9L141.6 379.2L142.3 383.3L143.1 373.7L143.8 379.7L144.6 376.5L145.3 379.5L146.1 375.7L146.8 376.6L147.6 377.7L148.3 380.9L149.1 376.8L149.8 379.1L150.6 378.0L151.3 385.8L152.1 386.7L152.8 380.0L153.6 386.5L154.3 388.9L155.1 386.5L155.8 393.0L156.6 397.3L157.3 404.4L158.1 401.9L158.8 406.2L159.6 404.8L160.3 409.9L161.1 414.7L161.8 416.8L162.6 417.9L163.3 421.4L164.1 423.9L164.8 426.4L165.6 433.5L166.3 433.7L167.1 432.2L167.8 432.6L168.6 437.0L169.3 435.2L170.1 436.7L170.8 436.5L171.6 436.3L172.3 440.4L173.1 439.9L173.8 439.0L174.6 441.1L175.3 441.6L176.1 442.3L176.8 443.2L177.6 444.4L178.3 443.9L179.1 443.8L179.8 446.6L180.6 444.4L181.3 447.5L182.1 447.0L182.8 445.3L183.6 447.1L184.3 448.4L185.1 445.6L185.8 449.7L186.6 448.7L187.3 448.0L188.1 448.6L188.8 448.1L189.6 447.3L190.3 447.7L191.1 446.7L191.8 448.1L192.6 447.9L193.3 448.2L194.1 447.7L194.8 447.6L195.6 447.4L196.3 448.2L197.1 447.4L197.8 449.6L198.6 447.5L199.3 447.2L200.1 449.4L200.8 448.9L201.6 448.6L202.3 449.3L203.1 448.0L203.8 449.2L204.6 448.2L205.3 449.2L206.1 446.6L206.8 448.1L207.6 447.2L208.3 446.9L209.1 447.3L209.8 447.8L210.6 448.4L211.3 448.9L212.1 447.5L212.8 448.2L213.6 446.9L214.3 449.1L215.1 446.9L215.8 448.5L216.6 447.5L217.3 448.4L218.1 448.8L218.8 448.9L219.6 447.1L220.3 448.2L221.1 447.3L221.8 448.3L222.6 447.7L223.3 448.4L224.1 447.6L224.8 448.6L225.6 447.6L226.3 448.2L227.1 449.5L227.8 447.8L228.6 448.3L229.3 448.4L230.1 447.8L230.8 448.2L231.6 447.7L232.3 448.3L233.1 449.7L233.8 448.3L234.6 448.6L235.3 448.7L236.1 448.3" fill="none" stroke="#000" stroke-width="1.7" stroke-linejoin="round"/>
<rect x="47.2" y="274.3" width="2" height="176.6" fill="#000"/>
<rect x="34.7" y="274.3" width="13.5" height="2" fill="#000"/>
<rect x="41.4" y="281.4" width="6.8" height="1.8" fill="#000"/>
<rect x="41.4" y="288.4" width="6.8" height="1.8" fill="#000"/>
<rect x="41.4" y="295.4" width="6.8" height="1.8" fill="#000"/>
<rect x="41.4" y="302.3" width="6.8" height="1.8" fill="#000"/>
<rect x="34.7" y="309.2" width="13.5" height="2" fill="#000"/>
<rect x="41.4" y="316.3" width="6.8" height="1.8" fill="#000"/>
<rect x="41.4" y="323.3" width="6.8" height="1.8" fill="#000"/>
<rect x="41.4" y="330.3" width="6.8" height="1.8" fill="#000"/>
<rect x="41.4" y="337.3" width="6.8" height="1.8" fill="#000"/>
<rect x="34.7" y="344.1" width="13.5" height="2" fill="#000"/>
<rect x="41.4" y="351.2" width="6.8" height="1.8" fill="#000"/>
<rect x="41.4" y="358.2" width="6.8" height="1.8" fill="#000"/>
<rect x="41.4" y="365.2" width="6.8" height="1.8" fill="#000"/>
<rect x="41.4" y="372.2" width="6.8" height="1.8" fill="#000"/>
<rect x="34.7" y="379.1" width="13.5" height="2" fill="#000"/>
<rect x="41.4" y="386.1" width="6.8" height="1.8" fill="#000"/>
<rect x="41.4" y="393.1" width="6.8" height="1.8" fill="#000"/>
<rect x="41.4" y="400.1" width="6.8" height="1.8" fill="#000"/>
<rect x="41.4" y="407.1" width="6.8" height="1.8" fill="#000"/>
<rect x="34.7" y="414.0" width="13.5" height="2" fill="#000"/>
<rect x="41.4" y="421.1" width="6.8" height="1.8" fill="#000"/>
<rect x="41.4" y="428.0" width="6.8" height="1.8" fill="#000"/>
<rect x="41.4" y="435.0" width="6.8" height="1.8" fill="#000"/>
<rect x="41.4" y="442.0" width="6.8" height="1.8" fill="#000"/>
<rect x="34.7" y="448.9" width="13.5" height="2" fill="#000"/>
<text transform="translate(30.3 274.8) rotate(-90) scale(1.09 1)" text-anchor="middle" letter-spacing="0.3" font-size="11.0" font-family="Liberation Sans, sans-serif" font-weight="bold" stroke="#000" stroke-width="0.4" stroke-linejoin="round">200</text>
<text transform="translate(30.3 309.8) rotate(-90) scale(1.09 1)" text-anchor="middle" letter-spacing="0.3" font-size="11.0" font-family="Liberation Sans, sans-serif" font-weight="bold" stroke="#000" stroke-width="0.4" stroke-linejoin="round">160</text>
<text transform="translate(24.8 344.7) rotate(-90) scale(1.09 1)" text-anchor="middle" letter-spacing="0.3" font-size="11.0" font-family="Liberation Sans, sans-serif" font-weight="bold" stroke="#000" stroke-width="0.4" stroke-linejoin="round">120</text>
<text transform="translate(30.3 380.2) rotate(-90) scale(1.09 1)" text-anchor="middle" letter-spacing="0.3" font-size="11.0" font-family="Liberation Sans, sans-serif" font-weight="bold" stroke="#000" stroke-width="0.4" stroke-linejoin="round">80</text>
<text transform="translate(30.3 415.1) rotate(-90) scale(1.09 1)" text-anchor="middle" letter-spacing="0.3" font-size="11.0" font-family="Liberation Sans, sans-serif" font-weight="bold" stroke="#000" stroke-width="0.4" stroke-linejoin="round">40</text>
<text transform="translate(29.0 450.0) rotate(-90) scale(1.09 1)" text-anchor="middle" letter-spacing="0.3" font-size="11.0" font-family="Liberation Sans, sans-serif" font-weight="bold" stroke="#000" stroke-width="0.4" stroke-linejoin="round">0</text>
<text transform="translate(12.6 361.8) rotate(-90) scale(1.1 1)" text-anchor="middle" font-size="11" font-family="Liberation Sans, sans-serif" font-weight="bold" stroke="#000" stroke-width="0.4" stroke-linejoin="round">Counts</text>
<rect x="47.2" y="449.5" width="190.3" height="2.2" fill="#000"/>
<rect x="48.0" y="450.6" width="2.5" height="15.2" fill="#000"/>
<rect x="67.0" y="450.6" width="2" height="8.8" fill="#000"/>
<rect x="78.0" y="450.6" width="2" height="8.8" fill="#000"/>
<rect x="85.8" y="450.6" width="2" height="8.8" fill="#000"/>
<rect x="91.8" y="450.6" width="2" height="8.8" fill="#000"/>
<rect x="96.8" y="450.6" width="2" height="8.8" fill="#000"/>
<rect x="101.0" y="450.6" width="2" height="8.8" fill="#000"/>
<rect x="104.6" y="450.6" width="2" height="8.8" fill="#000"/>
<rect x="107.8" y="450.6" width="2" height="8.8" fill="#000"/>
<rect x="110.4" y="450.6" width="2.5" height="15.2" fill="#000"/>
<rect x="129.4" y="450.6" width="2" height="8.8" fill="#000"/>
<rect x="140.4" y="450.6" width="2" height="8.8" fill="#000"/>
<rect x="148.2" y="450.6" width="2" height="8.8" fill="#000"/>
<rect x="154.3" y="450.6" width="2" height="8.8" fill="#000"/>
<rect x="159.2" y="450.6" width="2" height="8.8" fill="#000"/>
<rect x="163.4" y="450.6" width="2" height="8.8" fill="#000"/>
<rect x="167.0" y="450.6" width="2" height="8.8" fill="#000"/>
<rect x="170.2" y="450.6" width="2" height="8.8" fill="#000"/>
<rect x="172.8" y="450.6" width="2.5" height="15.2" fill="#000"/>
<rect x="191.9" y="450.6" width="2" height="8.8" fill="#000"/>
<rect x="202.9" y="450.6" width="2" height="8.8" fill="#000"/>
<rect x="210.7" y="450.6" width="2" height="8.8" fill="#000"/>
<rect x="216.7" y="450.6" width="2" height="8.8" fill="#000"/>
<rect x="221.6" y="450.6" width="2" height="8.8" fill="#000"/>
<rect x="225.8" y="450.6" width="2" height="8.8" fill="#000"/>
<rect x="229.4" y="450.6" width="2" height="8.8" fill="#000"/>
<rect x="232.6" y="450.6" width="2" height="8.8" fill="#000"/>
<rect x="235.2" y="450.6" width="2.5" height="15.2" fill="#000"/>
<text x="49.2" y="482.7" font-size="12" font-family="Liberation Sans, sans-serif" font-weight="bold" stroke="#000" stroke-width="0.4" stroke-linejoin="round" text-anchor="middle">10</text>
<text x="55.7" y="476.5" font-size="11.6" font-family="Liberation Sans, sans-serif" font-weight="bold" stroke="#000" stroke-width="0.4" stroke-linejoin="round">0</text>
<text x="111.6" y="482.2" font-size="12" font-family="Liberation Sans, sans-serif" font-weight="bold" stroke="#000" stroke-width="0.4" stroke-linejoin="round" text-anchor="middle">10</text>
<text x="118.1" y="476.0" font-size="11.6" font-family="Liberation Sans, sans-serif" font-weight="bold" stroke="#000" stroke-width="0.4" stroke-linejoin="round">1</text>
<text x="174.1" y="481.7" font-size="12" font-family="Liberation Sans, sans-serif" font-weight="bold" stroke="#000" stroke-width="0.4" stroke-linejoin="round" text-anchor="middle">10</text>
<text x="180.6" y="475.5" font-size="11.6" font-family="Liberation Sans, sans-serif" font-weight="bold" stroke="#000" stroke-width="0.4" stroke-linejoin="round">2</text>
<text x="236.5" y="481.2" font-size="12" font-family="Liberation Sans, sans-serif" font-weight="bold" stroke="#000" stroke-width="0.4" stroke-linejoin="round" text-anchor="middle">10</text>
<text x="243.0" y="475.0" font-size="11.6" font-family="Liberation Sans, sans-serif" font-weight="bold" stroke="#000" stroke-width="0.4" stroke-linejoin="round">3</text>
<text x="143.2" y="494.2" font-size="12.5" font-family="Liberation Sans, sans-serif" font-weight="bold" stroke="#000" stroke-width="0.4" stroke-linejoin="round" text-anchor="middle">FL1-H</text>
<text x="104.2" y="295.8" font-size="28" letter-spacing="0.6" font-family="Liberation Sans, sans-serif" font-weight="bold">Btk <tspan dx="1.5">-/-</tspan></text>
<path d="M316.6 426.7L317.4 426.7L318.1 425.7L318.9 428.0L319.6 427.9L320.4 428.1L321.1 426.9L321.9 429.0L322.6 429.3L323.4 428.4L324.1 430.3L324.9 431.9L325.6 429.2L326.4 429.7L327.1 431.3L327.9 428.7L328.6 430.4L329.4 426.0L330.1 427.1L330.9 429.4L331.6 428.2L332.4 426.9L333.1 428.3L333.9 427.3L334.6 427.4L335.4 425.7L336.1 426.5L336.9 426.6L337.6 425.0L338.4 421.0L339.1 422.0L339.9 430.4L340.6 421.5L341.4 424.7L342.1 426.1L342.9 427.1L343.6 428.7L344.4 428.7L345.1 429.3L345.9 429.5L346.6 425.5L347.4 426.0L348.1 424.7L348.9 425.8L349.6 423.8L350.4 422.3L351.1 426.9L351.9 422.6L352.6 421.1L353.4 423.2L354.1 418.7L354.9 419.4L355.6 418.3L356.4 415.2L357.1 413.1L357.9 417.6L358.6 415.7L359.4 415.1L360.1 417.3L360.9 413.3L361.6 418.1L362.4 410.6L363.1 407.8L363.9 412.7L364.6 413.5L365.4 415.7L366.1 410.6L366.9 410.4L367.6 410.3L368.4 415.4L369.1 405.5L369.9 409.5L370.6 407.9L371.4 405.1L372.1 405.6L372.9 406.0L373.6 403.0L374.4 404.3L375.1 405.1L375.9 404.6L376.6 401.0L377.4 396.5L378.1 397.5L378.9 401.9L379.6 399.5L380.4 401.3L381.1 398.9L381.9 393.0L382.6 398.7L383.4 393.8L384.1 396.0L384.9 393.9L385.6 395.5L386.4 392.6L387.1 392.3L387.9 388.2L388.6 396.6L389.4 393.7L390.1 393.3L390.9 398.1L391.6 396.8L392.4 395.6L393.1 394.7L393.9 392.0L394.6 387.5L395.4 385.4L396.1 389.6L396.9 389.0L397.6 386.7L398.4 385.1L399.1 386.0L399.9 385.6L400.6 382.7L401.4 383.5L402.1 383.1L402.9 379.0L403.6 382.7L404.4 377.4L405.1 373.8L405.9 382.0L406.6 378.8L407.4 385.3L408.1 376.2L408.9 382.3L409.6 378.9L410.4 380.5L411.1 377.2L411.9 387.5L412.6 380.5L413.4 387.5L414.1 381.7L414.9 378.6L415.6 365.0L416.4 366.0L417.1 380.3L417.9 382.2L418.6 386.2L419.4 388.7L420.1 386.4L420.9 391.7L421.6 398.7L422.4 394.4L423.1 399.1L423.9 398.2L424.6 395.6L425.4 401.1L426.1 401.4L426.9 405.6L427.6 406.0L428.4 411.6L429.1 413.4L429.9 419.8L430.6 420.4L431.4 426.2L432.1 430.5L432.9 432.8L433.6 434.5L434.4 436.4L435.1 436.1L435.9 438.7L436.6 439.9L437.4 440.4L438.1 441.9L438.9 441.4L439.6 443.3L440.4 442.5L441.1 442.3L441.9 442.1L442.6 445.4L443.4 443.4L444.1 444.1L444.9 444.0L445.6 447.9L446.4 447.9L447.1 445.5L447.9 444.7L448.6 445.9L449.4 446.3L450.1 446.6L450.9 447.5L451.6 446.2L452.4 447.1L453.1 447.7L453.9 447.7L454.6 447.8L455.4 447.0L456.1 447.4L456.9 448.3L457.6 446.5L458.4 448.6L459.1 447.4L459.9 448.7L460.6 446.3L461.4 448.3L462.1 447.4L462.9 448.9L463.6 447.8L464.4 447.0L465.1 448.7L465.9 447.2L466.6 446.9L467.4 447.0L468.1 447.1L468.9 447.2L469.6 447.3L470.4 448.7L471.1 448.8L471.9 449.0L472.6 449.7L473.4 448.4L474.1 447.9L474.9 446.8L475.6 447.6L476.4 448.0L477.1 449.2L477.9 447.4L478.6 449.4L479.4 449.4L480.1 447.8L480.9 447.7L481.6 448.0L482.4 447.3L483.1 447.0L483.9 447.5L484.6 448.5L485.4 446.0L486.1 448.6L486.9 449.5L487.6 449.1L488.4 449.5L489.1 446.7L489.9 447.1L490.6 449.4L491.4 448.4L492.1 449.2L492.9 448.3L493.6 448.6L494.4 447.2L495.1 447.6L495.9 448.9L496.6 448.2L497.4 448.1L498.1 448.8L498.9 447.4L499.6 446.6L500.4 447.4L501.1 447.9L501.9 449.4L502.6 447.3L503.4 448.7L503.4 450.2 L316.6 450.2 Z" fill="#858585" stroke="none"/>
<path d="M316.6 426.7L317.4 426.7L318.1 425.7L318.9 428.0L319.6 427.9L320.4 428.1L321.1 426.9L321.9 429.0L322.6 429.3L323.4 428.4L324.1 430.3L324.9 431.9L325.6 429.2L326.4 429.7L327.1 431.3L327.9 428.7L328.6 430.4L329.4 426.0L330.1 427.1L330.9 429.4L331.6 428.2L332.4 426.9L333.1 428.3L333.9 427.3L334.6 427.4L335.4 425.7L336.1 426.5L336.9 426.6L337.6 425.0L338.4 421.0L339.1 422.0L339.9 430.4L340.6 421.5L341.4 424.7L342.1 426.1L342.9 427.1L343.6 428.7L344.4 428.7L345.1 429.3L345.9 429.5L346.6 425.5L347.4 426.0L348.1 424.7L348.9 425.8L349.6 423.8L350.4 422.3L351.1 426.9L351.9 422.6L352.6 421.1L353.4 423.2L354.1 418.7L354.9 419.4L355.6 418.3L356.4 415.2L357.1 413.1L357.9 417.6L358.6 415.7L359.4 415.1L360.1 417.3L360.9 413.3L361.6 418.1L362.4 410.6L363.1 407.8L363.9 412.7L364.6 413.5L365.4 415.7L366.1 410.6L366.9 410.4L367.6 410.3L368.4 415.4L369.1 405.5L369.9 409.5L370.6 407.9L371.4 405.1L372.1 405.6L372.9 406.0L373.6 403.0L374.4 404.3L375.1 405.1L375.9 404.6L376.6 401.0L377.4 396.5L378.1 397.5L378.9 401.9L379.6 399.5L380.4 401.3L381.1 398.9L381.9 393.0L382.6 398.7L383.4 393.8L384.1 396.0L384.9 393.9L385.6 395.5L386.4 392.6L387.1 392.3L387.9 388.2L388.6 396.6L389.4 393.7L390.1 393.3L390.9 398.1L391.6 396.8L392.4 395.6L393.1 394.7L393.9 392.0L394.6 387.5L395.4 385.4L396.1 389.6L396.9 389.0L397.6 386.7L398.4 385.1L399.1 386.0L399.9 385.6L400.6 382.7L401.4 383.5L402.1 383.1L402.9 379.0L403.6 382.7L404.4 377.4L405.1 373.8L405.9 382.0L406.6 378.8L407.4 385.3L408.1 376.2L408.9 382.3L409.6 378.9L410.4 380.5L411.1 377.2L411.9 387.5L412.6 380.5L413.4 387.5L414.1 381.7L414.9 378.6L415.6 365.0L416.4 366.0L417.1 380.3L417.9 382.2L418.6 386.2L419.4 388.7L420.1 386.4L420.9 391.7L421.6 398.7L422.4 394.4L423.1 399.1L423.9 398.2L424.6 395.6L425.4 401.1L426.1 401.4L426.9 405.6L427.6 406.0L428.4 411.6L429.1 413.4L429.9 419.8L430.6 420.4L431.4 426.2L432.1 430.5L432.9 432.8L433.6 434.5L434.4 436.4L435.1 436.1L435.9 438.7L436.6 439.9L437.4 440.4L438.1 441.9L438.9 441.4L439.6 443.3L440.4 442.5L441.1 442.3L441.9 442.1L442.6 445.4L443.4 443.4L444.1 444.1L444.9 444.0L445.6 447.9L446.4 447.9L447.1 445.5L447.9 444.7L448.6 445.9L449.4 446.3L450.1 446.6L450.9 447.5L451.6 446.2L452.4 447.1L453.1 447.7L453.9 447.7L454.6 447.8L455.4 447.0L456.1 447.4L456.9 448.3L457.6 446.5L458.4 448.6L459.1 447.4L459.9 448.7L460.6 446.3L461.4 448.3L462.1 447.4L462.9 448.9L463.6 447.8L464.4 447.0L465.1 448.7L465.9 447.2L466.6 446.9L467.4 447.0L468.1 447.1L468.9 447.2L469.6 447.3L470.4 448.7L471.1 448.8L471.9 449.0L472.6 449.7L473.4 448.4L474.1 447.9L474.9 446.8L475.6 447.6L476.4 448.0L477.1 449.2L477.9 447.4L478.6 449.4L479.4 449.4L480.1 447.8L480.9 447.7L481.6 448.0L482.4 447.3L483.1 447.0L483.9 447.5L484.6 448.5L485.4 446.0L486.1 448.6L486.9 449.5L487.6 449.1L488.4 449.5L489.1 446.7L489.9 447.1L490.6 449.4L491.4 448.4L492.1 449.2L492.9 448.3L493.6 448.6L494.4 447.2L495.1 447.6L495.9 448.9L496.6 448.2L497.4 448.1L498.1 448.8L498.9 447.4L499.6 446.6L500.4 447.4L501.1 447.9L501.9 449.4L502.6 447.3L503.4 448.7" fill="none" stroke="#000" stroke-width="2.6" stroke-linejoin="round"/>
<path d="M316.6 426.5L317.4 426.9L318.1 426.8L318.9 426.9L319.6 430.7L320.4 426.8L321.1 430.7L321.9 427.8L322.6 432.9L323.4 431.7L324.1 427.1L324.9 427.9L325.6 429.3L326.4 426.4L327.1 428.4L327.9 430.4L328.6 429.8L329.4 429.0L330.1 425.3L330.9 430.0L331.6 427.9L332.4 427.2L333.1 428.6L333.9 429.4L334.6 429.5L335.4 428.1L336.1 426.1L336.9 428.3L337.6 427.1L338.4 426.0L339.1 425.8L339.9 423.0L340.6 427.1L341.4 428.6L342.1 424.7L342.9 430.0L343.6 425.7L344.4 428.9L345.1 426.3L345.9 429.8L346.6 427.8L347.4 428.8L348.1 429.4L348.9 422.9L349.6 425.9L350.4 424.4L351.1 423.9L351.9 423.2L352.6 422.4L353.4 420.8L354.1 419.8L354.9 421.0L355.6 419.5L356.4 419.6L357.1 420.0L357.9 418.5L358.6 417.3L359.4 414.2L360.1 411.7L360.9 414.7L361.6 415.0L362.4 412.8L363.1 411.0L363.9 415.3L364.6 413.2L365.4 410.4L366.1 411.3L366.9 410.7L367.6 411.3L368.4 407.6L369.1 409.8L369.9 408.9L370.6 407.9L371.4 409.0L372.1 406.6L372.9 403.1L373.6 406.5L374.4 402.2L375.1 403.1L375.9 404.4L376.6 403.8L377.4 400.4L378.1 401.7L378.9 400.1L379.6 399.9L380.4 400.5L381.1 395.3L381.9 399.6L382.6 392.1L383.4 392.2L384.1 399.4L384.9 394.7L385.6 395.1L386.4 392.8L387.1 393.7L387.9 390.7L388.6 391.1L389.4 393.5L390.1 394.0L390.9 390.6L391.6 394.7L392.4 395.4L393.1 390.2L393.9 391.8L394.6 394.1L395.4 394.1L396.1 387.1L396.9 390.3L397.6 390.1L398.4 384.1L399.1 386.8L399.9 384.1L400.6 378.3L401.4 378.3L402.1 379.9L402.9 379.9L403.6 378.7L404.4 383.4L405.1 376.9L405.9 383.8L406.6 377.7L407.4 376.0L408.1 381.8L408.9 376.8L409.6 375.2L410.4 379.8L411.1 377.0L411.9 384.5L412.6 380.9L413.4 384.5L414.1 381.2L414.9 381.5L415.6 367.0L416.4 368.0L417.1 379.8L417.9 379.7L418.6 391.7L419.4 387.5L420.1 391.1L420.9 387.7L421.6 394.0L422.4 394.2L423.1 397.2L423.9 401.4L424.6 398.3L425.4 399.6L426.1 401.8L426.9 407.7L427.6 408.9L428.4 412.9L429.1 416.2L429.9 420.7L430.6 419.8L431.4 425.9L432.1 430.0L432.9 431.7L433.6 432.7L434.4 436.7L435.1 436.3L435.9 439.5L436.6 439.3L437.4 439.2L438.1 440.2L438.9 444.1L439.6 443.2L440.4 445.1L441.1 444.0L441.9 445.0L442.6 444.9L443.4 447.4L444.1 445.4L444.9 447.3L445.6 445.4L446.4 447.7L447.1 446.5L447.9 446.5L448.6 446.5L449.4 448.3L450.1 446.4L450.9 447.1L451.6 448.0L452.4 446.8L453.1 448.6L453.9 445.7L454.6 446.1L455.4 447.4L456.1 447.6L456.9 446.8L457.6 446.9L458.4 446.8L459.1 448.2L459.9 449.0L460.6 447.3L461.4 448.3L462.1 447.8L462.9 446.3L463.6 447.5L464.4 448.9L465.1 446.6L465.9 449.7L466.6 449.7L467.4 446.9L468.1 447.3L468.9 446.9L469.6 448.3L470.4 449.4L471.1 447.7L471.9 447.2L472.6 447.6L473.4 447.6L474.1 447.4L474.9 448.3L475.6 447.0L476.4 447.0L477.1 448.5L477.9 448.2L478.6 449.1L479.4 448.9L480.1 448.6L480.9 448.3L481.6 448.5L482.4 447.5L483.1 446.9L483.9 447.7L484.6 448.7L485.4 446.6L486.1 447.7L486.9 449.3L487.6 447.2L488.4 449.3L489.1 447.6L489.9 447.0L490.6 448.4L491.4 448.3L492.1 449.5L492.9 448.6L493.6 446.6L494.4 448.0L495.1 448.6L495.9 446.6L496.6 447.7L497.4 447.9L498.1 448.0L498.9 447.9L499.6 447.6L500.4 446.4L501.1 448.7L501.9 446.7L502.6 449.2L503.4 449.2" fill="none" stroke="#000" stroke-width="1.7" stroke-linejoin="round"/>
<rect x="314.5" y="273.6" width="2" height="177.4" fill="#000"/>
<rect x="302.0" y="273.6" width="13.5" height="2" fill="#000"/>
<rect x="308.7" y="280.7" width="6.8" height="1.8" fill="#000"/>
<rect x="308.7" y="287.7" width="6.8" height="1.8" fill="#000"/>
<rect x="308.7" y="294.7" width="6.8" height="1.8" fill="#000"/>
<rect x="308.7" y="301.8" width="6.8" height="1.8" fill="#000"/>
<rect x="302.0" y="308.7" width="13.5" height="2" fill="#000"/>
<rect x="308.7" y="315.8" width="6.8" height="1.8" fill="#000"/>
<rect x="308.7" y="322.8" width="6.8" height="1.8" fill="#000"/>
<rect x="308.7" y="329.8" width="6.8" height="1.8" fill="#000"/>
<rect x="308.7" y="336.8" width="6.8" height="1.8" fill="#000"/>
<rect x="302.0" y="343.8" width="13.5" height="2" fill="#000"/>
<rect x="308.7" y="350.9" width="6.8" height="1.8" fill="#000"/>
<rect x="308.7" y="357.9" width="6.8" height="1.8" fill="#000"/>
<rect x="308.7" y="364.9" width="6.8" height="1.8" fill="#000"/>
<rect x="308.7" y="371.9" width="6.8" height="1.8" fill="#000"/>
<rect x="302.0" y="378.8" width="13.5" height="2" fill="#000"/>
<rect x="308.7" y="386.0" width="6.8" height="1.8" fill="#000"/>
<rect x="308.7" y="393.0" width="6.8" height="1.8" fill="#000"/>
<rect x="308.7" y="400.0" width="6.8" height="1.8" fill="#000"/>
<rect x="308.7" y="407.0" width="6.8" height="1.8" fill="#000"/>
<rect x="302.0" y="413.9" width="13.5" height="2" fill="#000"/>
<rect x="308.7" y="421.0" width="6.8" height="1.8" fill="#000"/>
<rect x="308.7" y="428.1" width="6.8" height="1.8" fill="#000"/>
<rect x="308.7" y="435.1" width="6.8" height="1.8" fill="#000"/>
<rect x="308.7" y="442.1" width="6.8" height="1.8" fill="#000"/>
<rect x="302.0" y="449.0" width="13.5" height="2" fill="#000"/>
<text transform="translate(297.0 269.4) rotate(-90) scale(1.09 1)" text-anchor="middle" letter-spacing="0.3" font-size="10.5" font-family="Liberation Sans, sans-serif" font-weight="bold" stroke="#000" stroke-width="0.4" stroke-linejoin="round">200</text>
<text transform="translate(297.0 304.4) rotate(-90) scale(1.09 1)" text-anchor="middle" letter-spacing="0.3" font-size="10.5" font-family="Liberation Sans, sans-serif" font-weight="bold" stroke="#000" stroke-width="0.4" stroke-linejoin="round">160</text>
<text transform="translate(297.0 339.5) rotate(-90) scale(1.09 1)" text-anchor="middle" letter-spacing="0.3" font-size="10.5" font-family="Liberation Sans, sans-serif" font-weight="bold" stroke="#000" stroke-width="0.4" stroke-linejoin="round">120</text>
<text transform="translate(297.0 380.0) rotate(-90) scale(1.09 1)" text-anchor="middle" letter-spacing="0.3" font-size="10.5" font-family="Liberation Sans, sans-serif" font-weight="bold" stroke="#000" stroke-width="0.4" stroke-linejoin="round">80</text>
<text transform="translate(297.0 415.1) rotate(-90) scale(1.09 1)" text-anchor="middle" letter-spacing="0.3" font-size="10.5" font-family="Liberation Sans, sans-serif" font-weight="bold" stroke="#000" stroke-width="0.4" stroke-linejoin="round">40</text>
<text transform="translate(297.0 450.1) rotate(-90) scale(1.09 1)" text-anchor="middle" letter-spacing="0.3" font-size="10.5" font-family="Liberation Sans, sans-serif" font-weight="bold" stroke="#000" stroke-width="0.4" stroke-linejoin="round">0</text>
<text transform="translate(279.6 362.6) rotate(-90) scale(1.1 1)" text-anchor="middle" font-size="11" font-family="Liberation Sans, sans-serif" font-weight="bold" stroke="#000" stroke-width="0.4" stroke-linejoin="round">Counts</text>
<rect x="314.5" y="449.3" width="190.2" height="2.2" fill="#000"/>
<rect x="315.2" y="450.4" width="2.5" height="15.2" fill="#000"/>
<rect x="334.3" y="450.4" width="2" height="8.8" fill="#000"/>
<rect x="345.3" y="450.4" width="2" height="8.8" fill="#000"/>
<rect x="353.1" y="450.4" width="2" height="8.8" fill="#000"/>
<rect x="359.1" y="450.4" width="2" height="8.8" fill="#000"/>
<rect x="364.1" y="450.4" width="2" height="8.8" fill="#000"/>
<rect x="368.2" y="450.4" width="2" height="8.8" fill="#000"/>
<rect x="371.9" y="450.4" width="2" height="8.8" fill="#000"/>
<rect x="375.1" y="450.4" width="2" height="8.8" fill="#000"/>
<rect x="377.7" y="450.4" width="2.5" height="15.2" fill="#000"/>
<rect x="396.7" y="450.4" width="2" height="8.8" fill="#000"/>
<rect x="407.7" y="450.4" width="2" height="8.8" fill="#000"/>
<rect x="415.5" y="450.4" width="2" height="8.8" fill="#000"/>
<rect x="421.5" y="450.4" width="2" height="8.8" fill="#000"/>
<rect x="426.5" y="450.4" width="2" height="8.8" fill="#000"/>
<rect x="430.7" y="450.4" width="2" height="8.8" fill="#000"/>
<rect x="434.3" y="450.4" width="2" height="8.8" fill="#000"/>
<rect x="437.5" y="450.4" width="2" height="8.8" fill="#000"/>
<rect x="440.1" y="450.4" width="2.5" height="15.2" fill="#000"/>
<rect x="459.1" y="450.4" width="2" height="8.8" fill="#000"/>
<rect x="470.1" y="450.4" width="2" height="8.8" fill="#000"/>
<rect x="477.9" y="450.4" width="2" height="8.8" fill="#000"/>
<rect x="484.0" y="450.4" width="2" height="8.8" fill="#000"/>
<rect x="488.9" y="450.4" width="2" height="8.8" fill="#000"/>
<rect x="493.1" y="450.4" width="2" height="8.8" fill="#000"/>
<rect x="496.7" y="450.4" width="2" height="8.8" fill="#000"/>
<rect x="499.9" y="450.4" width="2" height="8.8" fill="#000"/>
<rect x="502.5" y="450.4" width="2.5" height="15.2" fill="#000"/>
<text x="316.5" y="481.2" font-size="12" font-family="Liberation Sans, sans-serif" font-weight="bold" stroke="#000" stroke-width="0.4" stroke-linejoin="round" text-anchor="middle">10</text>
<text x="323.0" y="475.0" font-size="11.6" font-family="Liberation Sans, sans-serif" font-weight="bold" stroke="#000" stroke-width="0.4" stroke-linejoin="round">0</text>
<text x="378.9" y="480.9" font-size="12" font-family="Liberation Sans, sans-serif" font-weight="bold" stroke="#000" stroke-width="0.4" stroke-linejoin="round" text-anchor="middle">10</text>
<text x="385.4" y="474.7" font-size="11.6" font-family="Liberation Sans, sans-serif" font-weight="bold" stroke="#000" stroke-width="0.4" stroke-linejoin="round">1</text>
<text x="441.3" y="480.6" font-size="12" font-family="Liberation Sans, sans-serif" font-weight="bold" stroke="#000" stroke-width="0.4" stroke-linejoin="round" text-anchor="middle">10</text>
<text x="447.8" y="474.4" font-size="11.6" font-family="Liberation Sans, sans-serif" font-weight="bold" stroke="#000" stroke-width="0.4" stroke-linejoin="round">2</text>
<text x="503.8" y="480.3" font-size="12" font-family="Liberation Sans, sans-serif" font-weight="bold" stroke="#000" stroke-width="0.4" stroke-linejoin="round" text-anchor="middle">10</text>
<text x="510.2" y="474.1" font-size="11.6" font-family="Liberation Sans, sans-serif" font-weight="bold" stroke="#000" stroke-width="0.4" stroke-linejoin="round">3</text>
<text x="410.4" y="493.5" font-size="12.5" font-family="Liberation Sans, sans-serif" font-weight="bold" stroke="#000" stroke-width="0.4" stroke-linejoin="round" text-anchor="middle">FL1-H</text>
<text y="293.1" font-size="28" letter-spacing="0.55" font-family="Liberation Sans, sans-serif" font-weight="bold"><tspan x="324.8">Btk/T</tspan><tspan x="397.6" letter-spacing="1.2">ec</tspan><tspan x="440.9">2</tspan><tspan x="473.2" font-size="29.5" letter-spacing="0.9">-/-</tspan></text>
<path d="M457.6 278.6L472.2 293.4M472.2 278.6L457.6 293.4" stroke="#000" stroke-width="1.5" fill="none"/>
<rect x="44.8" y="507.8" width="41.4" height="40.9" fill="#000"/>
<rect x="51.2" y="514.5" width="28.6" height="28.7" fill="#858585"/>
<text x="109.8" y="537.8" font-size="29" letter-spacing="0.8" font-family="Liberation Sans, sans-serif" font-weight="bold">Basal</text>
<rect x="313.2" y="507" width="41.5" height="41.6" fill="#000"/>
<rect x="319.1" y="514" width="29.2" height="29.4" fill="#fff"/>
<text x="375.5" y="538" font-size="29" letter-spacing="0.7" font-family="Liberation Sans, sans-serif" font-weight="bold">CRP 10</text>
</svg>
</body></html>
